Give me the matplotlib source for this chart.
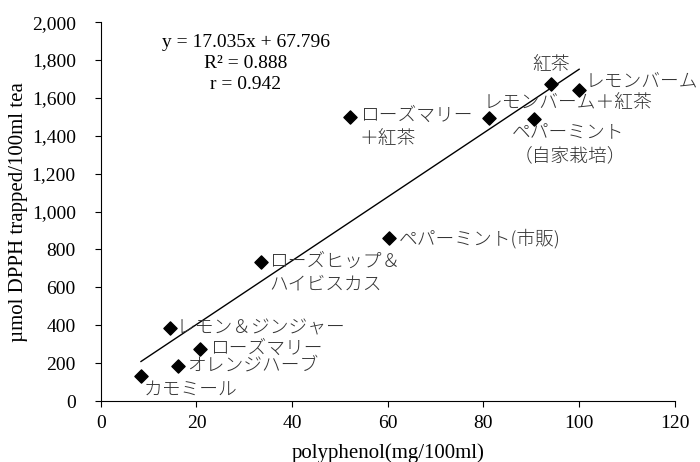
import numpy as np
import matplotlib
matplotlib.use("Agg")
import matplotlib.pyplot as plt
from matplotlib.ticker import StrMethodFormatter

plt.rcParams['font.family'] = ['Liberation Serif', 'Noto Sans CJK JP']

names = ["カモミール", "オレンジハーブ", "ローズマリー", "レモン＆ジンジャー",
         "ローズヒップ＆\nハイビスカス", "ペパーミント(市販)", "ローズマリー\n＋紅茶",
         "レモンバーム＋紅茶", "ペパーミント", "紅茶", "レモンバーム"]
polyphenol = [8.4, 16.1, 20.7, 14.4, 33.5, 60.3, 52.1, 81.2, 90.6, 94.1, 100.0]
dpph = [132, 185, 274, 385, 733, 860, 1499, 1493, 1488, 1673, 1641]

# label offsets in points (dx, dy) and alignment
offsets = [(2, -10, 'left', 'center'), (7, 0, 'left', 'center'), (7, 0, 'left', 'center'),
           (5, 0, 'left', 'center'), (6, 7, 'left', 'top'), (7, 0, 'left', 'center'),
           (7, 7, 'left', 'top'), (-4, 11, 'left', 'center'), (-16, -10, 'left', 'center'),
           (0, 14, 'center', 'center'), (5, 6, 'left', 'center')]

jp = dict(fontsize=13.5, color='#333333', family=['Noto Sans CJK JP'],
          fontweight='light', linespacing=1.35)

fig, ax = plt.subplots(figsize=(7, 4.62), dpi=100)
fig.subplots_adjust(left=0.144, right=0.964, bottom=0.132, top=0.952)

ax.scatter(polyphenol, dpph, marker='D', s=45, color='black', zorder=3)

# linear fit
k, b = np.polyfit(polyphenol, dpph, 1)
xs = np.array([min(polyphenol), max(polyphenol)])
ax.plot(xs, k * xs + b, color='black', lw=1)

for name, x, y, (dx, dy, ha, va) in zip(names, polyphenol, dpph, offsets):
    ax.annotate(name, (x, y), xytext=(dx, dy), textcoords='offset points',
                ha=ha, va=va, **jp)
# second line for the home-grown peppermint
ax.annotate("（自家栽培）", (polyphenol[8], dpph[8]), xytext=(-15, -27),
            textcoords='offset points', ha='left', va='center', **jp)

ax.text(0.253, 0.968, "y = 17.035x + 67.796\nR² = 0.888\nr = 0.942",
        transform=ax.transAxes, ha='center', va='top', fontsize=14,
        linespacing=1.3)

ax.set_xlim(0, 120)
ax.set_ylim(0, 2000)
ax.set_xticks(range(0, 121, 20))
ax.set_yticks(range(0, 2001, 200))
ax.yaxis.set_major_formatter(StrMethodFormatter('{x:,.0f}'))
ax.tick_params(direction='out', length=4, labelsize=14)
ax.tick_params(axis='y', pad=14)
ax.tick_params(axis='x', pad=6)
ax.spines['top'].set_visible(False)
ax.spines['right'].set_visible(False)
ax.set_xlabel("polyphenol(mg/100ml)", fontsize=15, labelpad=8)
ax.set_ylabel("µmol DPPH trapped/100ml tea", fontsize=15, labelpad=3)

plt.savefig("out.png", dpi=100)
